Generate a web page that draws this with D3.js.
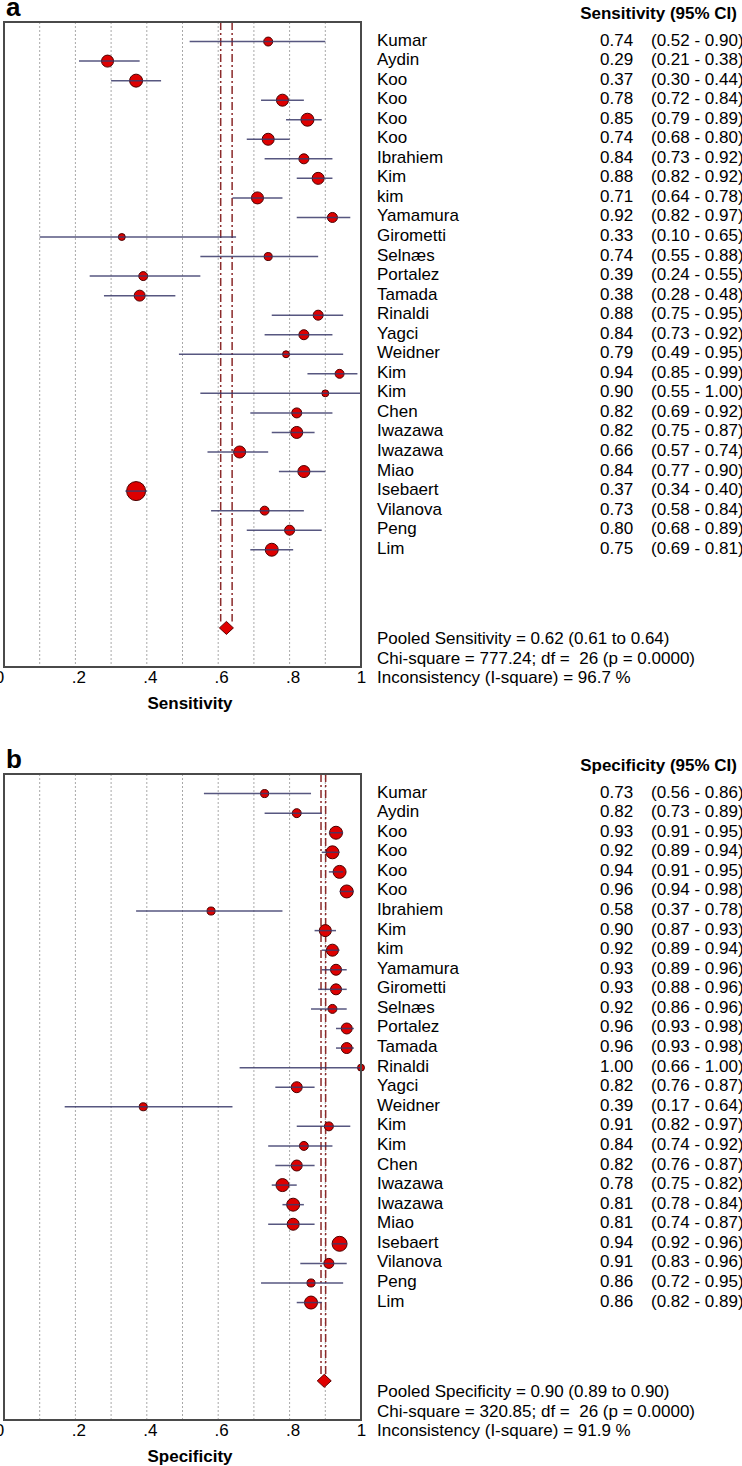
<!DOCTYPE html>
<html><head><meta charset="utf-8">
<script src="https://cdn.jsdelivr.net/npm/d3@7"></script>
<style>
body{margin:0;background:#fff}
text{font-family:"Liberation Sans",Arial,sans-serif;white-space:pre}
</style>
</head><body><svg id="c" width="742" height="1466"></svg>
<script>
const studies = ["Kumar","Aydin","Koo","Koo","Koo","Koo","Ibrahiem","Kim","kim","Yamamura","Girometti","Selnæs","Portalez","Tamada","Rinaldi","Yagci","Weidner","Kim","Kim","Chen","Iwazawa","Iwazawa","Miao","Isebaert","Vilanova","Peng","Lim"];

const sensEst = [0.74,0.29,0.37,0.78,0.85,0.74,0.84,0.88,0.71,0.92,0.33,0.74,0.39,0.38,0.88,0.84,0.79,0.94,0.90,0.82,0.82,0.66,0.84,0.37,0.73,0.80,0.75];
const sensLo  = [0.52,0.21,0.30,0.72,0.79,0.68,0.73,0.82,0.64,0.82,0.10,0.55,0.24,0.28,0.75,0.73,0.49,0.85,0.55,0.69,0.75,0.57,0.77,0.34,0.58,0.68,0.69];
const sensHi  = [0.90,0.38,0.44,0.84,0.89,0.80,0.92,0.92,0.78,0.97,0.65,0.88,0.55,0.48,0.95,0.92,0.95,0.99,1.00,0.92,0.87,0.74,0.90,0.40,0.84,0.89,0.81];
const sensWeight = [20,36,42,36,42,36,25,36,36,25,12,16,20,30,25,25,12,20,12,25,36,36,36,90,20,25,42];

const specEst = [0.73,0.82,0.93,0.92,0.94,0.96,0.58,0.90,0.92,0.93,0.93,0.92,0.96,0.96,1.00,0.82,0.39,0.91,0.84,0.82,0.78,0.81,0.81,0.94,0.91,0.86,0.86];
const specLo  = [0.56,0.73,0.91,0.89,0.91,0.94,0.37,0.87,0.89,0.89,0.88,0.86,0.93,0.93,0.66,0.76,0.17,0.82,0.74,0.76,0.75,0.78,0.74,0.92,0.83,0.72,0.82];
const specHi  = [0.86,0.89,0.95,0.94,0.95,0.98,0.78,0.93,0.94,0.96,0.96,0.96,0.98,0.98,1.00,0.87,0.64,0.97,0.92,0.87,0.82,0.84,0.87,0.96,0.96,0.95,0.89];
const specWeight = [16,20,42,42,42,42,16,36,36,30,30,20,30,30,12,30,16,20,20,30,42,42,36,56,25,16,42];

const pooledSens = [0.623, 0.607, 0.639];
const pooledSpec = [0.897, 0.888, 0.901];
const sensStats = ["Chi-square = 777.24; df =  26 (p = 0.0000)", "Inconsistency (I-square) = 96.7 %"];
const specStats = ["Chi-square = 320.85; df =  26 (p = 0.0000)", "Inconsistency (I-square) = 91.9 %"];
const tickValues = [0, 0.2, 0.4, 0.6, 0.8, 1];
const tickLabels = ["0", ".2", ".4", ".6", ".8", "1"];
const gridValues = [0.1,0.2,0.3,0.4,0.5,0.6,0.7,0.8,0.9];

const svg = d3.select("#c");
const FS = 17;

function panel(cfg) {
  const {label, measure, top, bottom, est, lo, hi, w, pooled, stats} = cfg;
  const g = svg.append("g");
  const x = d3.scaleLinear().domain([0,1]).range([4, 361]);
  const y = d3.scaleLinear().domain([0,33]).range([top, bottom]);
  const r = d3.scaleSqrt().domain([0, 90]).range([0, 9.5]);

  g.append("text").attr("x", 6).attr("y", top - 6).attr("font-size", 26).attr("font-weight", "bold").text(label);

  // grid
  g.selectAll(".grid").data(gridValues).join("line")
    .attr("x1", d => x(d)).attr("x2", d => x(d))
    .attr("y1", top).attr("y2", bottom)
    .attr("stroke", "#a8a8a8").attr("stroke-width", 1).attr("stroke-dasharray", "2,2");

  // pooled CI lines
  const dTop = y(31) - 6.5;
  g.selectAll(".pl").data([pooled[1], pooled[2]]).join("line")
    .attr("x1", d => x(d)).attr("x2", d => x(d))
    .attr("y1", top).attr("y2", dTop)
    .attr("stroke", "#8b2a2a").attr("stroke-width", 1.5).attr("stroke-dasharray", "8,3,2,3");

  const idx = d3.range(studies.length);
  // circles
  g.selectAll(".pt").data(idx).join("circle")
    .attr("cx", i => x(est[i])).attr("cy", i => y(i + 1))
    .attr("r", i => r(w[i]))
    .attr("fill", "#dd0000").attr("stroke", "#4a0000").attr("stroke-width", 1);
  // CI lines
  g.selectAll(".ci").data(idx).join("line")
    .attr("x1", i => x(lo[i])).attr("x2", i => x(hi[i]))
    .attr("y1", i => y(i + 1)).attr("y2", i => y(i + 1))
    .attr("stroke", "#3a3a6a").attr("stroke-width", 1.5).attr("stroke-opacity", 0.85);

  // diamond
  const cx = x(pooled[0]), cy = y(31);
  g.append("path")
    .attr("d", `M${cx-7},${cy}L${cx},${cy-6.5}L${cx+7},${cy}L${cx},${cy+6.5}Z`)
    .attr("fill", "#e00000").attr("stroke", "#600000").attr("stroke-width", 1);

  // box
  g.append("rect").attr("x", 4).attr("y", top).attr("width", 357).attr("height", bottom - top)
    .attr("fill", "none").attr("stroke", "#4a4a4a").attr("stroke-width", 2);

  // axis
  const axis = d3.axisBottom(x).tickValues(tickValues).tickSize(0)
    .tickFormat((d, i) => tickLabels[i]);
  const ax = g.append("g").attr("transform", `translate(0,${bottom})`).call(axis);
  ax.select(".domain").remove();
  ax.selectAll("text").attr("font-size", FS).attr("fill", "#000")
    .attr("font-family", "Liberation Sans, Arial, sans-serif")
    .attr("y", 0).attr("dy", 16)
    .attr("dx", (d, i) => tickLabels[i].startsWith(".") ? 3 : (d === 0 ? -5 : 0));

  g.append("text").attr("x", 190).attr("y", bottom + 42).attr("text-anchor", "middle")
    .attr("font-size", FS).attr("font-weight", "bold").text(measure);

  // right table
  g.append("text").attr("x", 737).attr("y", top - 3).attr("text-anchor", "end")
    .attr("font-size", FS).attr("font-weight", "bold").text(measure + " (95% CI)");
  g.selectAll(".nm").data(idx).join("text")
    .attr("x", 377).attr("y", i => y(i + 1) + 4).attr("font-size", FS).text(i => studies[i]);
  g.selectAll(".vl").data(idx).join("text")
    .attr("x", 600).attr("y", i => y(i + 1) + 4).attr("font-size", FS).text(i => est[i].toFixed(2));
  g.selectAll(".cl").data(idx).join("text")
    .attr("x", 651).attr("y", i => y(i + 1) + 4).attr("font-size", FS)
    .text(i => `(${lo[i].toFixed(2)} - ${hi[i].toFixed(2)})`);

  const lines = [`Pooled ${measure} = ${pooled[0].toFixed(2)} (${pooled[1].toFixed(2)} to ${pooled[2].toFixed(2)})`].concat(stats);
  g.selectAll(".st").data(lines).join("text")
    .attr("x", 377).attr("y", (d, i) => bottom - 23 + i * 19.5).attr("font-size", FS).text(d => d);
}

panel({label: "a", measure: "Sensitivity", top: 22, bottom: 667, est: sensEst, lo: sensLo, hi: sensHi, w: sensWeight, pooled: pooledSens, stats: sensStats});
panel({label: "b", measure: "Specificity", top: 774, bottom: 1420, est: specEst, lo: specLo, hi: specHi, w: specWeight, pooled: pooledSpec, stats: specStats});
</script>
</body></html>
